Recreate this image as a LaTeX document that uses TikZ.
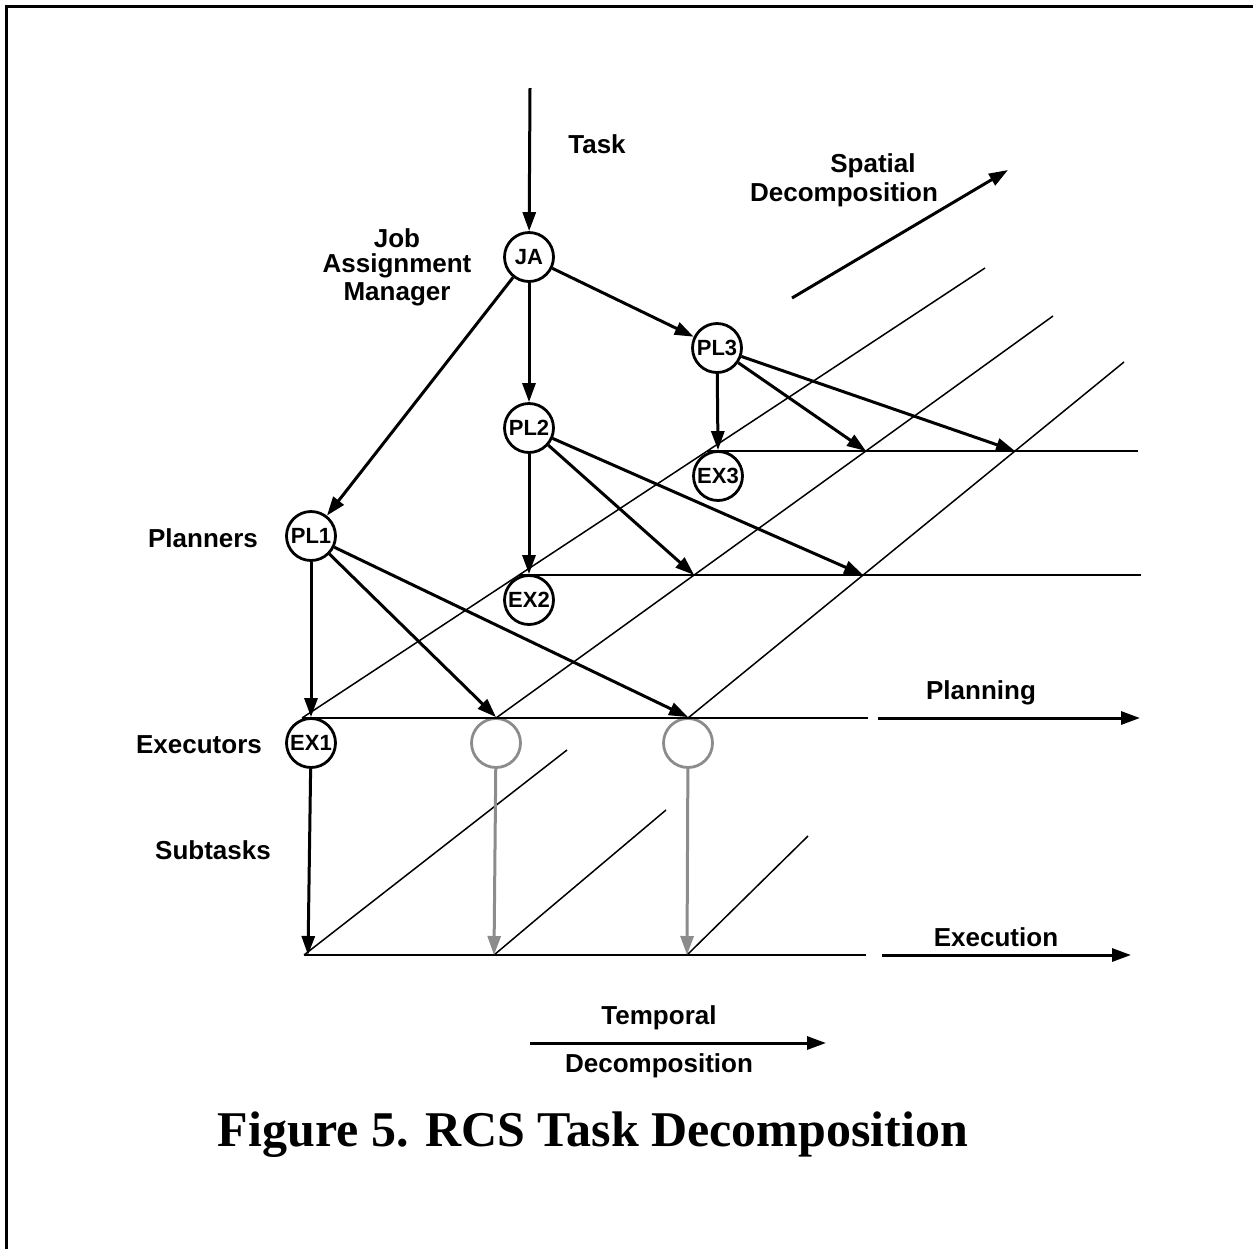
\documentclass[tikz,border=0pt]{standalone}
\usepackage{fontspec}
\setmainfont{Liberation Sans}
\newfontfamily\capfont{Liberation Serif}
\usetikzlibrary{arrows.meta}

\begin{document}
\begin{tikzpicture}[x=0.5pt,y=-0.5pt,
  agent/.style={circle,draw,line width=1.4pt,minimum size=24.5pt,inner sep=0pt,
    font=\bfseries\fontsize{11}{12}\selectfont},
  ghost/.style={agent,draw=gray!90},
  flow/.style={line width=1.5pt,-{Triangle[length=9.5pt,width=6.5pt]}},
  gflow/.style={flow,draw=gray!90,fill=gray!90},
  gridline/.style={line width=0.75pt},
  lab/.style={font=\bfseries\fontsize{13}{15}\selectfont,align=center,inner sep=0pt}]

\useasboundingbox (0,0) rectangle (1253,1249);

% frame
\draw[line width=1.5pt] (6,1249) -- (6,6) -- (1253,6);

% agents
\node[agent] (JA)  at (529,257) {JA};
\node[agent] (PL3) at (717,348) {PL3};
\node[agent] (EX3) at (718,476) {EX3};
\node[agent] (PL2) at (529,428) {PL2};
\node[agent] (EX2) at (529,600) {EX2};
\node[agent] (PL1) at (311,536) {PL1};
\node[agent] (EX1) at (311,743) {EX1};
\node[ghost] (G1)  at (496,743) {};
\node[ghost] (G2)  at (688,743) {};

% planning grid
\coordinate (h1a) at (302,718);  \coordinate (h1b) at (868,718);
\coordinate (h2a) at (519,575);  \coordinate (h2b) at (1141,575);
\coordinate (h3a) at (707,451);  \coordinate (h3b) at (1138,451);
\coordinate (d1a) at (302,718);  \coordinate (d1b) at (985,268);
\coordinate (d2a) at (496,718);  \coordinate (d2b) at (1053,316);
\coordinate (d3a) at (688,718);  \coordinate (d3b) at (1124,362);
\draw[gridline] (h1a) -- (h1b);
\draw[gridline] (h2a) -- (h2b);
\draw[gridline] (h3a) -- (h3b);
\draw[gridline] (d1a) -- (d1b);
\draw[gridline] (d2a) -- (d2b);
\draw[gridline] (d3a) -- (d3b);

\coordinate (c21) at (intersection of d2a--d2b and h2a--h2b);
\coordinate (c22) at (intersection of d3a--d3b and h2a--h2b);
\coordinate (c31) at (intersection of d2a--d2b and h3a--h3b);
\coordinate (c32) at (intersection of d3a--d3b and h3a--h3b);

% execution grid
\coordinate (e0) at (304,955);
\coordinate (e1) at (494,955);
\coordinate (e2) at (687,955);
\coordinate (eend) at (866,955);
\coordinate (s0) at (567,750);
\coordinate (s1) at (666,810);
\coordinate (s2) at (808,836);
\draw[gridline] (e0) -- (eend);
\draw[gridline] (e0) -- (s0);
\draw[gridline] (e1) -- (s1);
\draw[gridline] (e2) -- (s2);

% task flow
\coordinate (taskin) at (530,88);
\draw[flow] (taskin) -- (JA);
\draw[flow] (JA) -- (PL3);
\draw[flow] (JA) -- (PL2);
\draw[flow] (JA) -- (PL1);

\draw[flow] (PL3) -- (EX3.north);
\draw[flow] (PL3) -- (c31);
\draw[flow] (PL3) -- (c32);

\draw[flow] (PL2) -- (EX2.north);
\draw[flow] (PL2) -- (c21);
\draw[flow] (PL2) -- (c22);

\draw[flow] (PL1) -- (EX1.north);
\draw[flow] (PL1) -- (G1.north);
\draw[flow] (PL1) -- (G2.north);

\coordinate (e0t) at (308,955);
\draw[flow] (EX1) -- (e0t);
\draw[gflow] (G1) -- (e1);
\draw[gflow] (G2) -- (e2);

% axis arrows
\coordinate (pla) at (878,718);  \coordinate (plb) at (1140,718);
\coordinate (exa) at (882,955);  \coordinate (exb) at (1131,955);
\coordinate (spa) at (792,298);  \coordinate (spb) at (1008,170);
\coordinate (tea) at (530,1043); \coordinate (teb) at (826,1043);
\draw[flow] (pla) -- (plb);
\draw[flow] (exa) -- (exb);
\draw[flow] (spa) -- (spb);
\draw[flow] (tea) -- (teb);

% labels
\node[lab] (ltask) at (597,144) {Task};
\node[lab] (lspat) at (873,166) {Spatial};
\node[lab] (lsdec) at (844,195) {Decomposition};
\node[lab] (ljob)  at (397,238) {Job};
\node[lab] (lasg)  at (397,266) {Assignment};
\node[lab] (lmgr)  at (397,294) {Manager};
\node[lab] (lpl)   at (203,538) {Planners};
\node[lab] (lex)   at (199,745) {Executors};
\node[lab] (lsub)  at (213,850) {Subtasks};
\node[lab] (lplan) at (981,693) {Planning};
\node[lab] (lexec) at (996,937) {Execution};
\node[lab] (ltemp) at (659,1018) {Temporal};
\node[lab] (ltdec) at (659,1066) {Decomposition};
\node[inner sep=0pt,font=\capfont\bfseries\fontsize{25}{28}\selectfont] (cap) at (593,1135)
  {Figure 5. RCS Task Decomposition};
\end{tikzpicture}
\end{document}
